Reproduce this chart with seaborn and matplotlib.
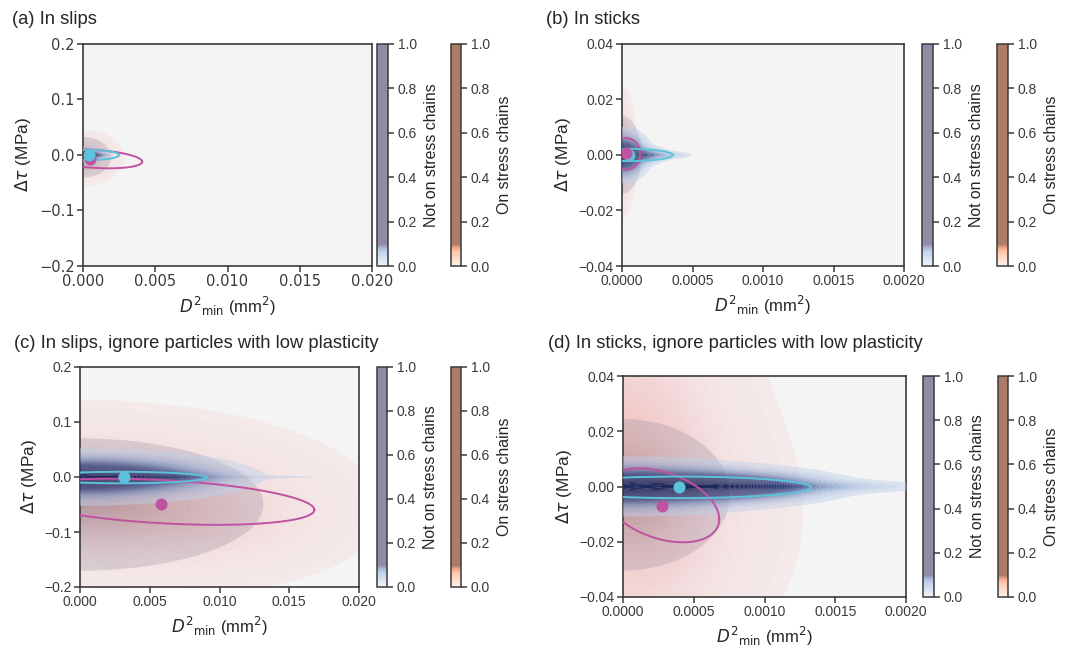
import numpy as np
import matplotlib
matplotlib.use("Agg")
import matplotlib.pyplot as plt
from matplotlib.colors import LinearSegmentedColormap, Normalize
from matplotlib.cm import ScalarMappable
import seaborn as sns

sns.set_theme(style="ticks")
plt.rcParams["font.family"] = ["Liberation Sans", "DejaVu Sans"]
plt.rcParams["axes.edgecolor"] = "#3a3a3a"
plt.rcParams["xtick.color"] = "#3a3a3a"
plt.rcParams["ytick.color"] = "#3a3a3a"
plt.rcParams["text.color"] = "#262626"
plt.rcParams["axes.labelcolor"] = "#262626"

# ---- panel set-up -------------------------------------------------------
titles = [
    "(a) In slips",
    "(b) In sticks",
    "(c) In slips, ignore particles with low plasticity",
    "(d) In sticks, ignore particles with low plasticity",
]
x_max = [0.02, 0.002, 0.02, 0.002]
y_max = [0.2, 0.04, 0.2, 0.04]
x_ticks = [
    [0.0, 0.005, 0.010, 0.015, 0.020],
    [0.0, 0.0005, 0.0010, 0.0015, 0.0020],
    [0.0, 0.005, 0.010, 0.015, 0.020],
    [0.0, 0.0005, 0.0010, 0.0015, 0.0020],
]
x_fmt = ["{:.3f}", "{:.4f}", "{:.3f}", "{:.4f}"]
y_ticks = [
    [-0.2, -0.1, 0.0, 0.1, 0.2],
    [-0.04, -0.02, 0.0, 0.02, 0.04],
    [-0.2, -0.1, 0.0, 0.1, 0.2],
    [-0.04, -0.02, 0.0, 0.02, 0.04],
]
y_fmt = ["{:.1f}", "{:.2f}", "{:.1f}", "{:.2f}"]
cbar_ticks = [0.0, 0.2, 0.4, 0.6, 0.8, 1.0]

# ---- density components: (centre x, centre y, spread x, spread y, weight)
# particles on stress chains
on_density = [
    [(0.0, -0.005, 0.0009, 0.016, 1.0)],
    [(0.0, 0.001, 0.000035, 0.0075, 1.0)],
    [(0.0, -0.035, 0.0065, 0.055, 1.0), (0.008, -0.08, 0.0045, 0.045, 0.35)],
    [(0.0, 0.005, 0.00034, 0.03, 1.0), (0.0003, -0.01, 0.00035, 0.02, 0.3)],
]
# particles not on stress chains: broad spread
not_halo = [
    [(0.0, -0.004, 0.0007, 0.013, 1.0)],
    [(0.0, 0.0, 0.00005, 0.005, 1.0)],
    [(0.0, -0.05, 0.0047, 0.043, 1.0)],
    [(0.0, -0.003, 0.00027, 0.0098, 1.0)],
]
# particles not on stress chains: concentrated core
not_core = [
    [(0.0002, 0.0, 0.0005, 0.006, 1.0), (0.001, 0.0, 0.0005, 0.0025, 0.35)],
    [(0.00002, 0.0, 0.00008, 0.004, 1.0), (0.00013, 0.0, 0.0001, 0.0016, 0.5),
     (0.0003, 0.0, 0.00012, 0.0008, 0.15)],
    [(0.0, 0.0, 0.005, 0.02, 1.0), (0.005, 0.0, 0.003, 0.007, 0.3),
     (0.012, 0.0, 0.004, 0.0018, 0.06)],
    [(0.0, 0.0, 0.00055, 0.0042, 1.0), (0.0008, 0.0, 0.00035, 0.0028, 0.7),
     (0.0015, 0.0, 0.0004, 0.0014, 0.12)],
]

# ---- mean positions
on_mean_x = [0.0005, 0.000026, 0.00579, 0.000276]
on_mean_y = [-0.007, 0.0006, -0.0485, -0.0069]
not_mean_x = [0.0004, 0.00005, 0.00312, 0.000396]
not_mean_y = [0.0005, 0.0, 0.0, -0.0002]
on_dot_on_top = [False, True, False, False]

# ---- spread ellipses: (centre x, centre y, sigma x, sigma y, correlation)
on_ellipse = [
    (0.0008, -0.007, 0.0033, 0.017, -0.3),
    (0.00003, 0.0004, 0.0001, 0.0057, 0.0),
    (0.006, -0.045, 0.0108, 0.042, -0.35),
    (0.00027, -0.0068, 0.00041, 0.0134, -0.375),
]
not_ellipse = [
    (0.0004, 0.0, 0.0021, 0.009, 0.0),
    (0.00005, 0.0, 0.00031, 0.0022, 0.0),
    (0.003, -0.001, 0.0061, 0.0105, 0.0),
    (0.0004, -0.0003, 0.00093, 0.0039, 0.0),
]

ON_COLOR = "#c052a2"
NOT_COLOR = "#5cc2dc"

on_fill = LinearSegmentedColormap.from_list("on_fill", [
    (0.0, (0.96, 0.88, 0.88, 0.0)),
    (0.01, (0.96, 0.88, 0.88, 0.6)),
    (0.4, (0.95, 0.80, 0.81, 0.8)),
    (1.0, (0.95, 0.72, 0.70, 0.9)),
])
halo_fill = LinearSegmentedColormap.from_list("halo_fill", [
    (0.0, (0.50, 0.48, 0.56, 0.0)),
    (0.02, (0.55, 0.53, 0.60, 0.26)),
    (0.5, (0.47, 0.45, 0.53, 0.33)),
    (1.0, (0.40, 0.39, 0.48, 0.40)),
])
core_fill = LinearSegmentedColormap.from_list("core_fill", [
    (0.0, (0.78, 0.84, 0.93, 0.0)),
    (0.03, (0.76, 0.83, 0.93, 0.45)),
    (0.2, (0.52, 0.62, 0.80, 0.7)),
    (0.4, (0.26, 0.35, 0.58, 0.92)),
    (0.55, (0.17, 0.23, 0.46, 1.0)),
    (1.0, (0.12, 0.16, 0.36, 1.0)),
])
not_bar = LinearSegmentedColormap.from_list("not_bar", [
    (0.0, "#f0f4fb"), (0.06, "#c5d4ec"), (0.08, "#a9bce0"),
    (0.095, "#918ba3"), (1.0, "#918ba3")])
on_bar = LinearSegmentedColormap.from_list("on_bar", [
    (0.0, "#fff1ea"), (0.06, "#fdc9b0"), (0.08, "#f6a98a"),
    (0.095, "#ad7c68"), (1.0, "#ad7c68")])

W, H = 1074, 646
fig = plt.figure(figsize=(W / 100, H / 100), dpi=100)


def frac(left, top, right, bottom):
    return [left / W, 1 - bottom / H, (right - left) / W, (bottom - top) / H]


axes_px = [(83, 44, 372, 266), (622, 44, 904, 266),
           (80, 367, 359, 587), (623, 376, 906, 597)]
cb1_px = [(377, 388), (922, 933), (377, 387), (923, 934)]
cb2_px = [(451, 461), (997, 1008), (451, 461), (998, 1008)]
title_px = [(12, 20), (546, 20), (14, 343), (548, 344)]


def density(comps, gx, gy):
    z = np.zeros_like(gx)
    for cx, cy, sx, sy, w in comps:
        z += w * np.exp(-0.5 * (((gx - cx) / sx) ** 2 + ((gy - cy) / sy) ** 2))
    return z / z.max()


def ellipse(cx, cy, sx, sy, rho):
    t = np.linspace(0, 2 * np.pi, 300)
    phi = np.arccos(rho)
    return cx + sx * np.cos(t), cy + sy * np.cos(t - phi)


levels_on = np.r_[0.006, 0.015, 0.03, np.linspace(0.05, 1.0, 30)[:-1], 1.001]
levels_halo = np.r_[0.02, np.linspace(0.05, 1.0, 36)[:-1], 1.001]
levels_core = np.r_[0.03, np.linspace(0.06, 1.0, 40)[:-1], 1.001]

for i in range(4):
    l, t, r, b = axes_px[i]
    ax = fig.add_axes(frac(l, t, r, b))
    ax.set_facecolor("#f4f4f4")

    gx, gy = np.meshgrid(np.linspace(-0.1 * x_max[i], x_max[i], 600),
                         np.linspace(-y_max[i], y_max[i], 600))
    norm = Normalize(0, 1)
    ax.contourf(gx, gy, density(on_density[i], gx, gy), levels=levels_on,
                cmap=on_fill, norm=norm, antialiased=True, zorder=1)
    ax.contourf(gx, gy, density(not_halo[i], gx, gy), levels=levels_halo,
                cmap=halo_fill, norm=norm, antialiased=True, zorder=2)
    ax.contourf(gx, gy, density(not_core[i], gx, gy), levels=levels_core,
                cmap=core_fill, norm=norm, antialiased=True, zorder=3)

    ex, ey = ellipse(*on_ellipse[i])
    ax.plot(ex, ey, color=ON_COLOR, lw=1.4, zorder=4)
    ex, ey = ellipse(*not_ellipse[i])
    ax.plot(ex, ey, color=NOT_COLOR, lw=1.4, zorder=4)

    z_on_dot = 6 if on_dot_on_top[i] else 5
    sns.scatterplot(x=[on_mean_x[i]], y=[on_mean_y[i]], color=ON_COLOR, s=75,
                    linewidth=0, ax=ax, zorder=z_on_dot)
    sns.scatterplot(x=[not_mean_x[i]], y=[not_mean_y[i]], color=NOT_COLOR, s=75,
                    linewidth=0, ax=ax, zorder=5.5)

    ax.set_xlim(0, x_max[i])
    ax.set_ylim(-y_max[i], y_max[i])
    ax.set_xticks(x_ticks[i])
    ax.set_yticks(y_ticks[i])
    tick_font = "DejaVu Sans" if i == 0 else "Liberation Sans"
    tick_size = 10.5 if i == 0 else 10
    ax.set_xticklabels([x_fmt[i].format(v) for v in x_ticks[i]],
                       family=tick_font, fontsize=tick_size)
    ax.set_yticklabels([y_fmt[i].format(v).replace("-", "\u2212") for v in y_ticks[i]],
                       family=tick_font, fontsize=tick_size)
    ax.tick_params(length=4, width=1.1, pad=2)
    for sp in ax.spines.values():
        sp.set_linewidth(1.2)
    ax.set_xlabel(r"${D^2}_{\mathrm{min}}$ (mm$^2$)", fontsize=12, labelpad=4)
    ax.set_ylabel(r"$\Delta\tau$ (MPa)", fontsize=12.4, labelpad=4)

    for (cl, cr), cmap, label in ((cb1_px[i], not_bar, "Not on stress chains"),
                                  (cb2_px[i], on_bar, "On stress chains")):
        cax = fig.add_axes(frac(cl, t, cr, b))
        cb = fig.colorbar(ScalarMappable(norm=Normalize(0, 1), cmap=cmap), cax=cax)
        cb.set_ticks(cbar_ticks)
        cb.set_ticklabels([f"{v:.1f}" for v in cbar_ticks])
        cb.ax.tick_params(labelsize=10, length=4, width=1.1, pad=3)
        cb.outline.set_linewidth(1.1)
        cb.set_label(label, fontsize=11.4, labelpad=5)

    tx, ty = title_px[i]
    fig.text(tx / W, 1 - ty / H, titles[i], fontsize=13.2, ha="left", va="center")

fig.savefig("out.png", dpi=100)
